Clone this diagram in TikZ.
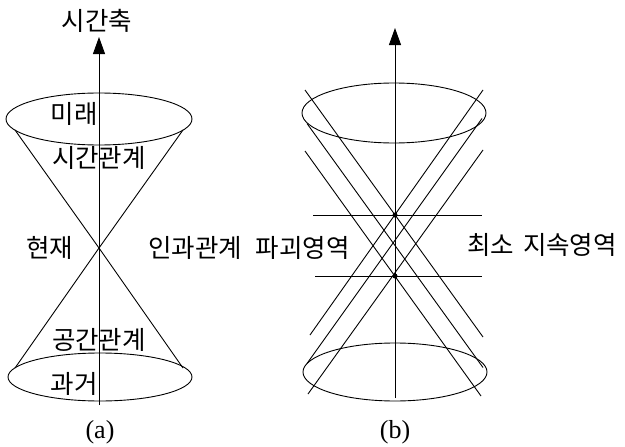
\documentclass[tikz,border=0pt]{standalone}
\usepackage{fontspec}
\setmainfont{Liberation Serif}
\newfontfamily\krfont{Noto Sans CJK KR}
\usetikzlibrary{arrows.meta}
\begin{document}
\begin{tikzpicture}[x=1pt,y=-1pt,line width=0.9pt,
  kt/.style={font=\krfont\fontsize{25.5}{28}\selectfont,inner sep=0pt},
  lt/.style={font=\fontsize{26}{28}\selectfont,inner sep=0pt},
  axisarrow/.style={-{Triangle[length=17pt,width=12pt]}},
  dotmark/.style={circle,fill,inner sep=0pt,minimum size=5pt}]
\useasboundingbox (0,0) rectangle (625,447);
% ---------- panel (a) ----------
\coordinate (aBot) at (99,405);
\node[kt] (aAxisLab) at (97,21) {시간축};
\coordinate (aTip) at (99,37);
\draw[axisarrow] (aBot) -- (aTip);
\draw (99,119) ellipse [x radius=93pt,y radius=26pt];
\draw (100,377) ellipse [x radius=92pt,y radius=24pt];
\coordinate (O) at (99,248);
\coordinate (aul) at (15,130);
\coordinate (aur) at (183,130);
\coordinate (all) at (15,368);
\coordinate (alr) at (183,368);
\draw (aul) -- (O) -- (alr);
\draw (aur) -- (O) -- (all);
\node[kt] (mirae) at (74,114) {미래};
\node[kt] (sigan) at (99,158) {시간관계};
\node[kt] (hyeonjae) at (50,248) {현재};
\node[kt] (gonggan) at (99,340) {공간관계};
\node[kt] (gwageo) at (74,384) {과거};
\node[lt] (capa) at (100,432) {(a)};
\node[kt,anchor=west] (breach) at (148,248) {인과관계\hspace{8pt} 파괴영역};
% ---------- panel (b) ----------
\coordinate (bBot) at (395,398);
\coordinate (bTip) at (395,28);
\draw[axisarrow] (bBot) -- (bTip);
\draw (394,113) ellipse [x radius=92pt,y radius=30pt];
\draw (395,372) ellipse [x radius=92pt,y radius=29pt];
\node[dotmark] (A) at (395,215) {};
\coordinate (M) at (395,245.5);
\node[dotmark] (B) at (395,276) {};
\coordinate (hAl) at (313,215);
\coordinate (hAr) at (482,215);
\coordinate (hBl) at (315,276);
\coordinate (hBr) at (482,276);
\draw (hAl) -- (hAr);
\draw (hBl) -- (hBr);
% down-right family
\draw (A.center) ++(-90,-125) -- ++(178,247);
\draw (B.center) ++(-90,-125) -- ++(176,245);
\draw (M) ++(-88,-122) -- ++(176,244);
% up-right family
\draw (A.center) ++(88,-125) -- ++(-173,245);
\draw (B.center) ++(88,-126) -- ++(-175,244);
\draw (M) ++(87,-127) -- ++(-175,245);
\node[kt,anchor=west] (minreg) at (467,245) {최소\hspace{3pt} 지속영역};
\node[lt] (capb) at (395,432) {(b)};
\end{tikzpicture}
\end{document}
